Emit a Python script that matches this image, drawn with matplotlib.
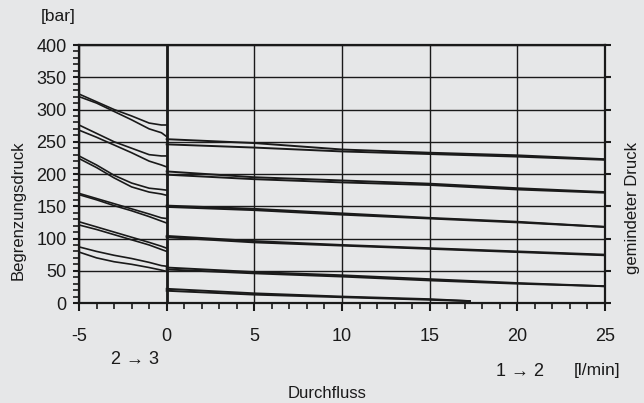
import matplotlib
matplotlib.use("Agg")
import matplotlib.pyplot as plt
import numpy as np

plt.rcParams["font.family"] = ["Liberation Sans", "DejaVu Sans"]
plt.rcParams["axes.unicode_minus"] = False

bg = "#e6e7e8"
ink = "#1a1a1a"

# flow 2 -> 3 (negative side), two runs per setting
x_left = [-5, -4, -3, -2, -1, -0.3, 0]
left_upper = [
    [324, 312, 300, 290, 279, 276, 276],
    [276, 263, 250, 240, 230, 228, 228],
    [228, 214, 198, 186, 178, 176, 175],
    [170, 162, 154, 146, 138, 132, 131],
    [126, 118, 110, 102, 94, 88, 85],
    [87, 80, 74, 69, 63, 58, 57],
]
left_lower = [
    [320, 310, 297, 284, 270, 264, 258],
    [268, 257, 245, 233, 220, 214, 211],
    [224, 210, 194, 180, 172, 169, 167],
    [168, 160, 151, 143, 134, 127, 124],
    [121, 114, 106, 98, 90, 83, 80],
    [79, 70, 64, 60, 55, 51, 49],
]

# flow 1 -> 2 (positive side)
x_right = [0, 5, 10, 15, 20, 25]
right_upper = [
    [254, 248, 238, 233, 229, 223],
    [204, 195, 190, 185, 178, 172],
    [151, 146, 139, 132, 126, 118],
    [104, 96, 90, 85, 80, 75],
    [55, 48, 43, 37, 31, 26],
]
right_lower = [
    [246, 241, 235, 231, 227, 222],
    [199, 192, 187, 183, 176, 171],
    [149, 144, 137, 131, 125, 118],
    [102, 94, 89, 84, 79, 74],
    [52, 46, 41, 35, 30, 26],
]
x_low = [0, 5, 10, 15, 17.3]
low_upper = [22, 15, 10, 6, 3]
low_lower = [19, 13, 9, 5, 3]

x_ticks = [-5, 0, 5, 10, 15, 20, 25]
y_ticks = [0, 50, 100, 150, 200, 250, 300, 350, 400]

fig = plt.figure(figsize=(6.44, 4.03), dpi=100, facecolor=bg)
ax = fig.add_axes([0.1227, 0.2481, 0.8167, 0.6402])
ax.set_facecolor(bg)

for ys in left_upper + left_lower:
    ax.plot(x_left, ys, color=ink, lw=1.2)
for ys in right_upper + right_lower:
    ax.plot(x_right, ys, color=ink, lw=1.4)
ax.plot(x_low, low_upper, color=ink, lw=1.4)
ax.plot(x_low, low_lower, color=ink, lw=1.4)

ax.set_xlim(-5, 25)
ax.set_ylim(0, 400)
ax.set_xticks(x_ticks)
ax.set_yticks(y_ticks)
ax.set_xticks(np.arange(-5, 26, 1), minor=True)
ax.set_yticks(np.arange(0, 401, 10), minor=True)
ax.grid(True, which="major", color=ink, lw=1.0)
ax.axvline(0, color=ink, lw=2.0)

ax.tick_params(axis="both", which="major", direction="out", length=6, width=1.5,
               colors=ink, labelsize=13, pad=12)
ax.tick_params(axis="y", which="major", pad=5)
ax.tick_params(axis="both", which="minor", direction="out", length=4, width=1.2,
               colors=ink)
ax.tick_params(axis="y", which="minor", right=False)
ax.tick_params(axis="y", which="major", right=True, length=4)
for s in ax.spines.values():
    s.set_linewidth(1.6)
    s.set_color(ink)

fig.text(58 / 644, 1 - 17 / 403, "[bar]", ha="center", va="center", fontsize=12.5, color=ink)
fig.text(18 / 644, 1 - 210 / 403, "Begrenzungsdruck", rotation=90, ha="center",
         va="center", fontsize=12, color=ink)
fig.text(632 / 644, 1 - 208 / 403, "gemindeter Druck", rotation=90, ha="center",
         va="center", fontsize=12, color=ink)
fig.text(135 / 644, 1 - 360 / 403, "2 \u2192 3", ha="center", va="center", fontsize=13, color=ink)
fig.text(520 / 644, 1 - 372 / 403, "1 \u2192 2", ha="center", va="center", fontsize=13, color=ink)
fig.text(597 / 644, 1 - 370 / 403, "[l/min]", ha="center", va="center", fontsize=12.5, color=ink)
fig.text(327 / 644, 1 - 393 / 403, "Durchfluss", ha="center", va="center", fontsize=12, color=ink)

fig.savefig("out.png", dpi=100, facecolor=bg)
